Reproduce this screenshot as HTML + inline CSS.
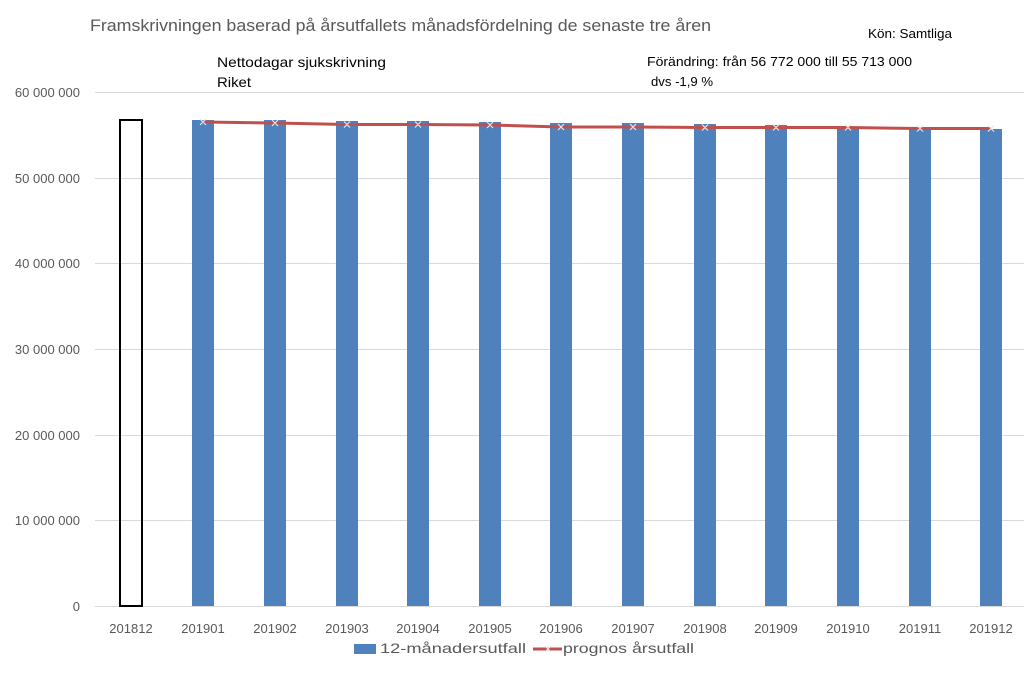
<!DOCTYPE html>
<html><head><meta charset="utf-8"><style>
body{margin:0;background:#fff;}
svg text{font-family:"Liberation Sans",sans-serif;}
</style></head><body>
<svg width="1024" height="674" viewBox="0 0 1024 674" xmlns="http://www.w3.org/2000/svg">
<rect width="1024" height="674" fill="#fff"/>
<text x="90" y="31" font-size="17" fill="#595959" textLength="621" lengthAdjust="spacingAndGlyphs">Framskrivningen baserad på årsutfallets månadsfördelning de senaste tre åren</text>
<text x="868" y="38" font-size="12.5" fill="#000" textLength="84" lengthAdjust="spacingAndGlyphs">Kön: Samtliga</text>
<text x="217" y="67" font-size="14" fill="#000" textLength="169" lengthAdjust="spacingAndGlyphs">Nettodagar sjukskrivning</text>
<text x="217" y="87" font-size="14" fill="#000" textLength="34" lengthAdjust="spacingAndGlyphs">Riket</text>
<text x="647" y="66" font-size="12.5" fill="#000" textLength="265" lengthAdjust="spacingAndGlyphs">Förändring: från 56 772 000 till 55 713 000</text>
<text x="651" y="86" font-size="12.5" fill="#000" textLength="62" lengthAdjust="spacingAndGlyphs">dvs -1,9 %</text>
<g stroke="#d9d9d9" stroke-width="1">
<line x1="95" y1="92.5" x2="1024" y2="92.5"/>
<line x1="95" y1="178.5" x2="1024" y2="178.5"/>
<line x1="95" y1="263.5" x2="1024" y2="263.5"/>
<line x1="95" y1="349.5" x2="1024" y2="349.5"/>
<line x1="95" y1="435.5" x2="1024" y2="435.5"/>
<line x1="95" y1="520.5" x2="1024" y2="520.5"/>
<line x1="95" y1="606.5" x2="1024" y2="606.5"/>
</g>
<g font-size="13" fill="#595959" text-anchor="end">
<text x="80" y="97">60 000 000</text>
<text x="80" y="183">50 000 000</text>
<text x="80" y="268">40 000 000</text>
<text x="80" y="354">30 000 000</text>
<text x="80" y="440">20 000 000</text>
<text x="80" y="525">10 000 000</text>
<text x="80" y="611">0</text>
</g>
<rect x="120" y="120" width="22" height="486" fill="none" stroke="#000" stroke-width="2"/>
<g fill="#4f81bd">
<rect x="192" y="120" width="22" height="486"/>
<rect x="264" y="120" width="22" height="486"/>
<rect x="336" y="121" width="22" height="485"/>
<rect x="407" y="121" width="22" height="485"/>
<rect x="479" y="122" width="22" height="484"/>
<rect x="550" y="123" width="22" height="483"/>
<rect x="622" y="123" width="22" height="483"/>
<rect x="694" y="124" width="22" height="482"/>
<rect x="765" y="125" width="22" height="481"/>
<rect x="837" y="127" width="22" height="479"/>
<rect x="909" y="128" width="22" height="478"/>
<rect x="980" y="129" width="22" height="477"/>
</g>
<polyline fill="none" stroke="#c0504d" stroke-width="3" points="203,122 275,123 347,124.5 418,124.5 490,125 561,127 633,127 705,127.5 776,127.5 848,127.5 920,128.5 991,128.5"/>
<g stroke="#e6e6e6" stroke-width="1.2">
<path d="M200,119l6,6M206,119l-6,6M272,120l6,6M278,120l-6,6M344,121.5l6,6M350,121.5l-6,6M415,121.5l6,6M421,121.5l-6,6M487,122l6,6M493,122l-6,6M558,124l6,6M564,124l-6,6M630,124l6,6M636,124l-6,6M702,124.5l6,6M708,124.5l-6,6M773,124.5l6,6M779,124.5l-6,6M845,124.5l6,6M851,124.5l-6,6M917,125.5l6,6M923,125.5l-6,6M988,125.5l6,6M994,125.5l-6,6"/>
</g>
<g font-size="13" fill="#595959" text-anchor="middle">
<text x="131" y="633">201812</text><text x="203" y="633">201901</text><text x="275" y="633">201902</text>
<text x="347" y="633">201903</text><text x="418" y="633">201904</text><text x="490" y="633">201905</text>
<text x="561" y="633">201906</text><text x="633" y="633">201907</text><text x="705" y="633">201908</text>
<text x="776" y="633">201909</text><text x="848" y="633">201910</text><text x="920" y="633">201911</text>
<text x="991" y="633">201912</text>
</g>
<rect x="354" y="644" width="22" height="10" fill="#4f81bd"/>
<text x="380" y="653" font-size="14" fill="#595959" textLength="146" lengthAdjust="spacingAndGlyphs">12-månadersutfall</text>
<line x1="533" y1="649" x2="562" y2="649" stroke="#c0504d" stroke-width="3"/>
<path d="M545,646l6,6M551,646l-6,6" stroke="#e6e6e6" stroke-width="1.2"/>
<text x="563" y="653" font-size="14" fill="#595959" textLength="131" lengthAdjust="spacingAndGlyphs">prognos årsutfall</text>
</svg>
</body></html>
